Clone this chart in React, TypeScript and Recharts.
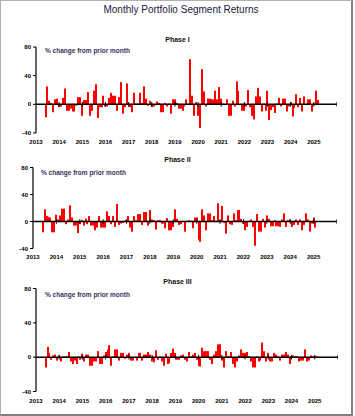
import { BarChart, Bar, XAxis, YAxis, ReferenceLine } from 'recharts'

// monthly % change, first value = Jun 2013
const START_MONTH = 5
const years = [2013, 2014, 2015, 2016, 2017, 2018, 2019, 2020, 2021, 2022, 2023, 2024, 2025]
const zeroTicks = [2014, 2015, 2016, 2017, 2018, 2019, 2020, 2021, 2022, 2023, 2024, 2025, 2026]
const yTicks = [-40, 0, 40, 80]

const phase1 = [
  -18, 25, 5, 2, -11, 7, 8, -4, -3, 9, 22, -9, -9, -6, -10, -10, -2, 10, 10, -16,
  6, 6, 17, -16, -9, 19, 28, -19, -4, -4, 12, -3, -3, 9, 16, 12, 12, -9, 10, 31,
  -13, -4, 29, -3, -4, -11, 16, 1, 1, 16, 2, 25, 8, -2, 5, -4, -3, -1, 4, 2,
  -11, -11, 2, -3, 1, -13, 7, 7, 2, -6, -6, -9, -3, 7, 1, 63,
  12, -16, 3, -16, -33, 49, 18, -3, 8, 8, 7, 7, 19, 7, 24, 8, 1, -1, 7, -16,
  -16, 5, -3, 32, 19, -1, -9, -9, -3, 20, -4, -16, -21, 11, 23, 11, -10, 1, -9, 19,
  -22, -8, -4, -12, 1, 9, -3, 8, 8, -10, -3, 3, -17, -5, 14, -4, 9, -10, 11, 1,
  7, 7, -10, 1, 19, 6,
]

const phase2 = [
  -16, 18, 8, 7, 6, -16, -16, 10, 3, 9, 19, 19, -4, 3, 24, 6, -6, -6, -17, -4,
  2, -6, 4, -4, 8, -6, -6, -13, -9, 8, -9, -9, -9, 15, 8, -4, 8, -8, 26, -5,
  -3, -2, 1, 2, 8, -9, -15, 8, 2, 11, 11, -5, 14, 14, -6, 17, 3, 2, -12, 2,
  2, -3, -3, -10, 5, -13, -13, -8, 18, 4,
  -5, -4, 1, -15, 1, 2, 1, -10, 6, 6, -27, -30, 18, 9, -13, 12, 12, 2, 8, 1,
  27, 2, 23, -2, -18, 9, -4, -5, 12, 2, 17, 17, 4, -3, -13, -8, 1, 3, -8, -36,
  11, -15, -15, 4, -9, 9, 4, -7, -7, 2, -7, -7, -8, 3, 12, -8, 2, 3, -8, -5,
  3, -5, 3, -13, -5, 12, 3, -15, -3, 6, -9,
]

const phase3 = [
  -12, 12, 5, -3, 2, 3, -4, 2, -5, 1, 1, 1, 6, -5, -8, -4, -8, 1, -3, 4,
  -5, 3, 3, -10, -10, -5, -5, 7, -8, -8, 2, 6, 9, 14, -10, 1, 9, 9, -4, 5,
  5, -2, 3, 5, -4, -4, -1, -4, 5, 5, -4, 3, 3, 6, 3, -5, -6, 8, -3, 1,
  -5, -10, 4, -8, -7, 5, 10, 5, -3, -3,
  2, 3, -3, -5, 6, 1, 3, 5, -3, -10, -11, 11, 7, 7, 7, -3, -8, 3, 7, 15,
  15, -4, -12, 7, 1, 1, 6, -8, -12, -5, 2, 9, 5, 5, 6, 1, -5, -12, -12, 1,
  -5, -4, 17, 7, -5, 5, -5, -5, 5, 3, 1, -4, 3, 3, 6, 3, -8, 1, 2, 1,
  1, -5, -4, -4, 9, -5, -4, 2, 1, 1, 1,
]

const toRows = (vals: number[]) =>
  vals.map((v, i) => ({ x: 2013 + (START_MONTH + i) / 12, v }))

const FONT = '"Liberation Sans", Arial, sans-serif'
const tickStyle = { fontSize: 6, fontWeight: 700, fill: '#000', fontFamily: FONT }

// crisp 2px bar centred on the month position
const MonthBar = (p: any) => {
  const cx = p.x + p.width / 2
  const y = Math.min(p.y, p.y + p.height)
  const h = Math.abs(p.height)
  return <rect x={Math.round(cx - 1)} y={y} width={2} height={h} fill="#FF0000" />
}

interface PanelProps {
  title: string
  values: number[]
  top: number
  left: number
  plotTop: number
  plotHeight: number
  width: number
  labelGap: number
  tickHalf: number
  titleY: number
  noteX: number
  noteY: number
}

function Panel({ title, values, top, left, plotTop, plotHeight, width, labelGap, tickHalf, titleY, noteX, noteY }: PanelProps) {
  const data = toRows(values)
  const height = plotTop + plotHeight + 14
  return (
    <>
      <div style={{ position: 'absolute', left: 0, width: 355, top: titleY - 4, textAlign: 'center',
        fontSize: 7, lineHeight: '8px', fontWeight: 700, color: '#111' }}>
        {title}
      </div>
      <div style={{ position: 'absolute', left: noteX, top: noteY - 3.5, fontSize: 6.5, lineHeight: '7px',
        fontWeight: 700, color: '#33335a', whiteSpace: 'nowrap' }}>
        % change from prior month
      </div>
      <div style={{ position: 'absolute', left: 0, top }}>
        <BarChart width={width} height={height} data={data}
          margin={{ top: plotTop, right: 0, bottom: 0, left: 0 }}>
          <XAxis dataKey="x" type="number" domain={[2013, 2026]} ticks={years} interval={0}
            axisLine={false} tickLine={false} tickSize={0} tickMargin={labelGap} height={14} tick={tickStyle} />
          <YAxis domain={[-40, 80]} ticks={yTicks} interval={0} width={left} tickSize={3} tickMargin={2}
            axisLine={{ stroke: '#000', strokeWidth: 1.2 }} tickLine={{ stroke: '#000' }} tick={tickStyle} />
          <Bar dataKey="v" fill="#FF0000" barSize={2} shape={MonthBar} isAnimationActive={false} />
          <ReferenceLine y={0} stroke="#000" strokeWidth={1.5} />
          {zeroTicks.map(t => (
            <ReferenceLine key={t} segment={[{ x: t, y: -tickHalf }, { x: t, y: tickHalf }]} stroke="#000" strokeWidth={1} />
          ))}
        </BarChart>
      </div>
    </>
  )
}

export default function App() {
  return (
    <div style={{ position: 'absolute', left: 0, top: 0, width: 353, height: 416, boxSizing: 'border-box',
      borderTop: '1px solid #b0b0b0', borderLeft: '1px solid #b0b0b0', borderRight: '2px solid #808080',
      borderBottom: '2px solid #808080', background: '#fff', fontFamily: FONT }}>
      <div style={{ position: 'absolute', left: -1, top: -1, width: 355, height: 416 }}>
        <div style={{ position: 'absolute', left: 0, width: 362, top: 4, textAlign: 'center', fontSize: 10,
          lineHeight: '11px', color: '#1a1a3a' }}>
          Monthly Portfolio Segment Returns
        </div>
        <Panel title="Phase I" values={phase1} top={40} left={36} plotTop={7} plotHeight={86} width={337}
          labelGap={7} tickHalf={3.2} titleY={39.5} noteX={45} noteY={50} />
        <Panel title="Phase II" values={phase2} top={160} left={33} plotTop={7.5} plotHeight={81} width={337}
          labelGap={6} tickHalf={3.4} titleY={159.5} noteX={41} noteY={172.5} />
        <Panel title="Phase III" values={phase3} top={280} left={36} plotTop={8.5} plotHeight={103} width={338}
          labelGap={7} tickHalf={2.7} titleY={282} noteX={45} noteY={294} />
      </div>
    </div>
  )
}
